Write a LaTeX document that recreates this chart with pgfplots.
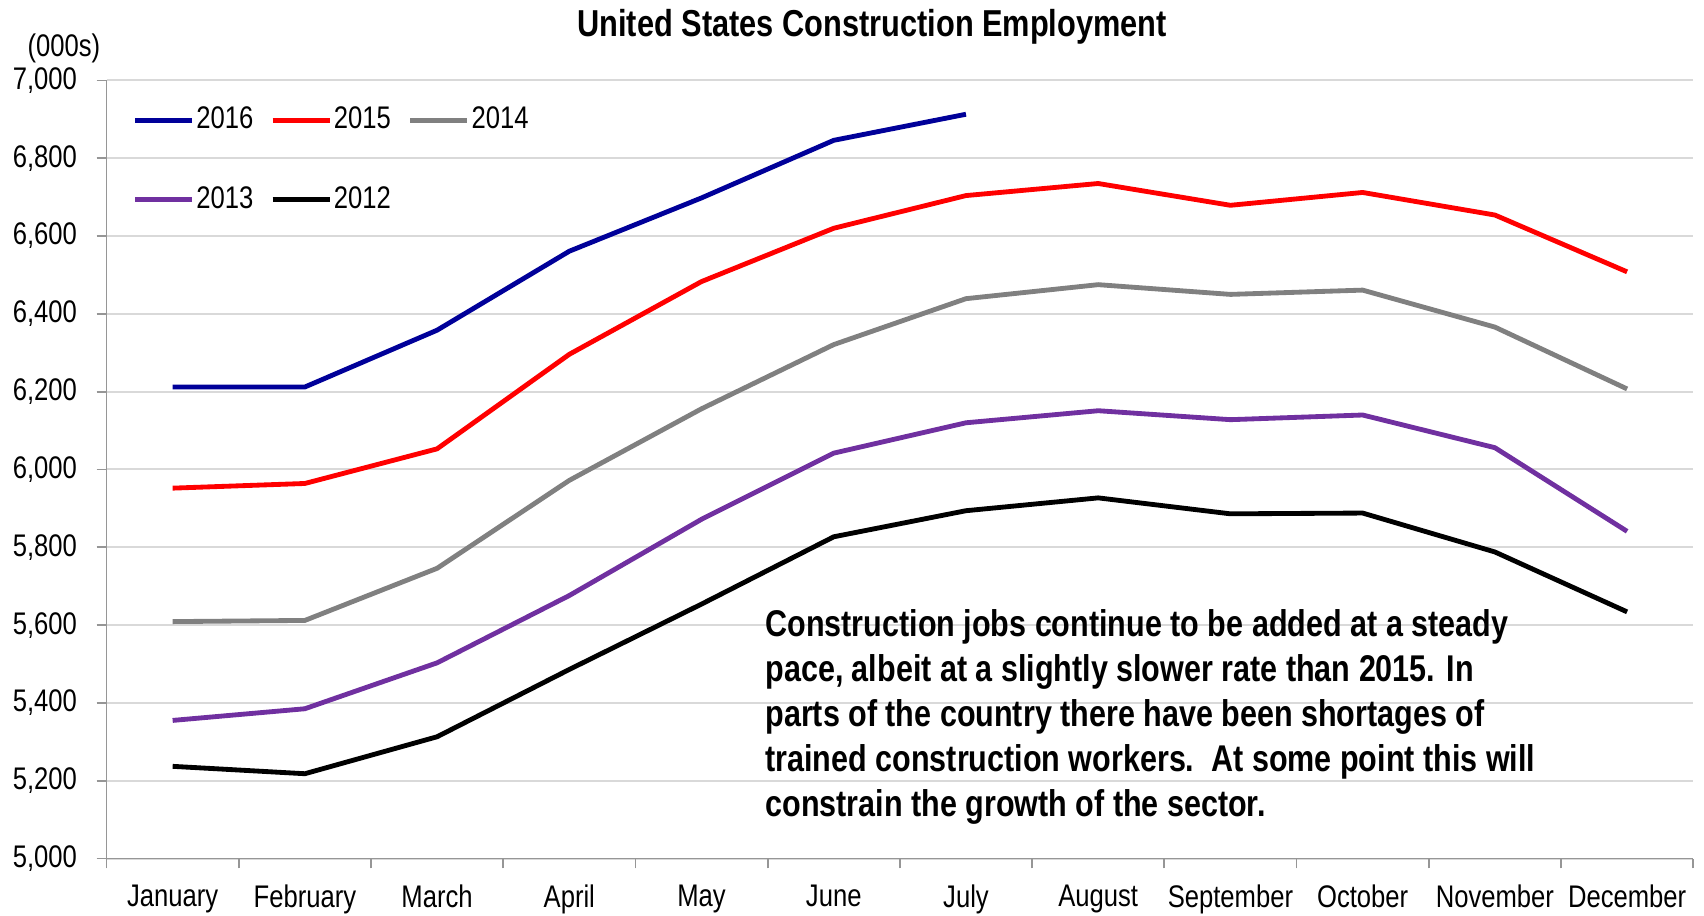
\documentclass[border=0pt]{standalone}
\usepackage{fontspec}
\setmainfont{Liberation Sans}[FakeStretch=0.82]
\usepackage{pgfplots}
\pgfplotsset{compat=1.18}

\definecolor{y2016}{HTML}{000099}
\definecolor{y2015}{HTML}{FF0000}
\definecolor{y2014}{HTML}{808080}
\definecolor{y2013}{HTML}{7030A0}
\definecolor{y2012}{HTML}{000000}
\definecolor{axisgray}{HTML}{969696}
\definecolor{gridgray}{HTML}{D9D9D9}

\begin{document}
\begin{tikzpicture}
\path[use as bounding box] (-37.5pt,-20.2pt) rectangle (562.3pt,302.2pt);
\begin{axis}[
    at={(0pt,0pt)}, anchor=south west,
    scale only axis,
    width=558.5pt, height=273.9pt,
    xmin=0.5, xmax=12.5,
    ymin=5000, ymax=7000,
    ytick={5000,5200,...,7000},
    xtick={0.5,1.5,...,12.5},
    x tick label as interval,
    xticklabels={January,February,March,April,May,June,July,August,September,October,November,December},
    axis lines*=left,
    axis line style={draw=axisgray, line width=0.6pt},
    tick align=outside,
    tick style={draw=axisgray, line width=0.6pt},
    major tick length=3.5pt,
    ymajorgrids=true,
    grid style={draw=gridgray, line width=0.7pt},
    tick label style={font=\fontsize{11}{13}\selectfont},
    yticklabel style={xshift=-3.4pt},
    xticklabel style={yshift=-2.3pt},
    /pgf/number format/assume math mode=true,
    /pgf/number format/1000 sep={,},
    legend columns=3,
    legend cell align=left,
    legend style={at={(0.0161,0.969)}, anchor=north west, draw=none, fill=none,
        inner sep=0pt, row sep=17.4pt,
        nodes={inner sep=0.7pt},
        font=\fontsize{11}{13}\selectfont,
        /tikz/every odd column/.append style={column sep=0pt},
        /tikz/every even column/.append style={column sep=5.3pt}},
    legend image code/.code={\draw[#1, line width=1.7pt] (0pt,0pt) -- (20pt,0pt);},
]
\addplot[y2016, line width=1.7pt] coordinates {
  (1,6212) (2,6212) (3,6358) (4,6561) (5,6698) (6,6846) (7,6913)
};
\addplot[y2015, line width=1.7pt] coordinates {
  (1,5952) (2,5964) (3,6053) (4,6296) (5,6483) (6,6620) (7,6704)
  (8,6735) (9,6679) (10,6712) (11,6654) (12,6508)
};
\addplot[y2014, line width=1.7pt] coordinates {
  (1,5609) (2,5612) (3,5746) (4,5972) (5,6156) (6,6321) (7,6439)
  (8,6475) (9,6450) (10,6461) (11,6366) (12,6207)
};
\addplot[y2013, line width=1.7pt] coordinates {
  (1,5355) (2,5385) (3,5503) (4,5676) (5,5872) (6,6042) (7,6120)
  (8,6151) (9,6128) (10,6140) (11,6056) (12,5841)
};
\addplot[y2012, line width=1.7pt] coordinates {
  (1,5237) (2,5218) (3,5313) (4,5486) (5,5654) (6,5827) (7,5894)
  (8,5927) (9,5886) (10,5888) (11,5788) (12,5634)
};
\legend{2016,2015,2014,2013,2012}
\end{axis}
\node[font=\bfseries\fontsize{13.2}{15}\selectfont] at (269.5pt,292.6pt) {United States Construction Employment};
\node[font=\fontsize{11}{13}\selectfont] at (-15pt,285.3pt) {(000s)};
\node[anchor=west, align=left, font=\bfseries\fontsize{13.1}{15.8}\selectfont] at (228.4pt,49.8pt)
  {Construction jobs continue to be added at a steady\\
   pace, albeit at a slightly slower rate than 2015. In\\
   parts of the country there have been shortages of\\
   trained construction workers.\ \ At some point this will\\
   constrain the growth of the sector.};
\end{tikzpicture}
\end{document}
